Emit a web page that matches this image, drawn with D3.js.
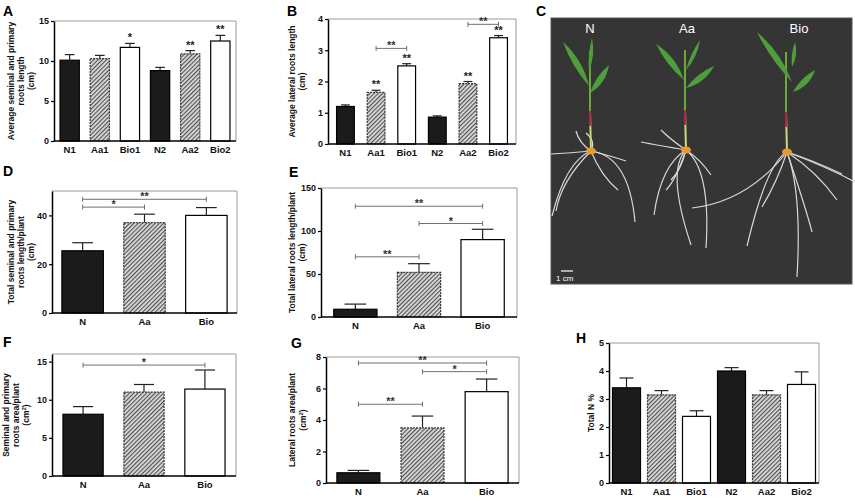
<!DOCTYPE html>
<html>
<head>
<meta charset="utf-8">
<script src="https://cdn.jsdelivr.net/npm/d3@7"></script>
<style>
  body { margin: 0; background: #fff; }
  svg text { font-family: Arial, "Liberation Sans", sans-serif; }
</style>
</head>
<body>
<div id="fig"></div>
<script>
// ---- data ----
var groups6 = ["N1", "Aa1", "Bio1", "N2", "Aa2", "Bio2"];
var groups3 = ["N", "Aa", "Bio"];
var treat6 = ["N", "Aa", "Bio", "N", "Aa", "Bio"];

// A: average seminal and primary roots length (cm)
var aMean = [10.1, 10.3, 11.7, 8.8, 10.9, 12.5];
var aErr = [0.7, 0.4, 0.5, 0.4, 0.4, 0.7];
var aStars = ["", "", "*", "", "**", "**"];
var aTicks = [0, 5, 10, 15];

// B: average lateral roots length (cm)
var bMean = [1.2, 1.65, 2.5, 0.86, 1.93, 3.4];
var bErr = [0.05, 0.07, 0.07, 0.04, 0.07, 0.07];
var bStars = ["", "**", "**", "", "**", "**"];
var bBrackets = [["Aa1", "Bio1", 3.06, "**"], ["Aa2", "Bio2", 3.83, "**"]];
var bTicks = [0, 1, 2, 3, 4];

// D: total seminal and primary roots length/plant (cm)
var dMean = [25.5, 37, 40];
var dErr = [3.3, 3.5, 3.2];
var dBrackets = [["N", "Aa", 43.4, "*"], ["N", "Bio", 46.6, "**"]];
var dTicks = [0, 20, 40];

// E: total lateral roots length/plant (cm)
var eMean = [9, 52, 90];
var eErr = [6, 10, 12];
var eBrackets = [["N", "Aa", 70, "**"], ["Aa", "Bio", 108.7, "*"], ["N", "Bio", 128.8, "**"]];
var eTicks = [0, 50, 100, 150];

// F: seminal and primary roots area/plant (cm2)
var fMean = [8.1, 11.0, 11.4];
var fErr = [1.0, 1.0, 2.5];
var fBrackets = [["N", "Bio", 14.55, "*"]];
var fTicks = [0, 5, 10, 15];

// G: lateral roots area/plant (cm2)
var gMean = [0.65, 3.5, 5.8];
var gErr = [0.15, 0.75, 0.8];
var gBrackets = [["N", "Aa", 5.0, "**"], ["Aa", "Bio", 7.07, "*"], ["N", "Bio", 7.62, "**"]];
var gTicks = [0, 2, 4, 6, 8];

// H: total N %
var hMean = [3.4, 3.15, 2.38, 4.0, 3.15, 3.52];
var hErr = [0.35, 0.15, 0.2, 0.12, 0.15, 0.45];
var hTicks = [0, 1, 2, 3, 4, 5];

var svg = d3.select("#fig").append("svg")
    .attr("width", 855)
    .attr("height", 501);

// diagonal hatch for the Aa bars
var pat = svg.append("defs").append("pattern")
    .attr("id", "hatch")
    .attr("patternUnits", "userSpaceOnUse")
    .attr("width", 3).attr("height", 3)
    .attr("patternTransform", "rotate(45)");
pat.append("rect").attr("width", 3).attr("height", 3).attr("fill", "#dcdcdc");
pat.append("line").attr("x1", 0.5).attr("y1", 0).attr("x2", 0.5).attr("y2", 3)
    .attr("stroke", "#505050").attr("stroke-width", 1.3);

function barFill(t) { return t === "N" ? "#1b1b1b" : t === "Aa" ? "url(#hatch)" : "#fff"; }
function barStroke(t) { return t === "Aa" ? "#3a3a3a" : "#000"; }

function drawPanel(p) {
    var g = svg.append("g");
    var x = d3.scaleBand().domain(p.cats).range([p.left, p.right])
        .paddingInner(p.pin).paddingOuter(p.pout);
    var y = d3.scaleLinear().domain([0, p.max]).range([p.bottom, p.top]);
    var bw = x.bandwidth();
    var rows = p.cats.map(function (c, i) {
        return { cat: c, t: p.treat[i], m: p.mean[i], e: p.err[i], s: p.stars ? p.stars[i] : "" };
    });

    // grey frame (top + right)
    g.append("path")
        .attr("d", "M" + p.left + "," + p.top + "H" + p.right + "V" + p.bottom)
        .attr("fill", "none").attr("stroke", "#9a9a9a").attr("stroke-width", 1);

    // error bars (upper only)
    var eb = g.selectAll("g.err").data(rows).join("g").attr("class", "err");
    eb.append("line")
        .attr("x1", function (d) { return x(d.cat) + bw / 2; })
        .attr("x2", function (d) { return x(d.cat) + bw / 2; })
        .attr("y1", function (d) { return y(d.m); })
        .attr("y2", function (d) { return y(d.m + d.e); })
        .attr("stroke", "#222").attr("stroke-width", 1.2);
    eb.append("line")
        .attr("x1", function (d) { return x(d.cat) + bw * 0.25; })
        .attr("x2", function (d) { return x(d.cat) + bw * 0.75; })
        .attr("y1", function (d) { return y(d.m + d.e); })
        .attr("y2", function (d) { return y(d.m + d.e); })
        .attr("stroke", "#222").attr("stroke-width", 1.2);

    // bars
    g.selectAll("rect.bar").data(rows).join("rect")
        .attr("class", "bar")
        .attr("x", function (d) { return x(d.cat); })
        .attr("width", bw)
        .attr("y", function (d) { return y(d.m); })
        .attr("height", function (d) { return y(0) - y(d.m); })
        .attr("fill", function (d) { return barFill(d.t); })
        .attr("stroke", function (d) { return barStroke(d.t); })
        .attr("stroke-width", 1.2)
        .attr("stroke-dasharray", function (d) { return d.t === "Aa" ? "2,1" : null; });

    // stars over bars
    g.selectAll("text.star").data(rows.filter(function (d) { return d.s; })).join("text")
        .attr("class", "star")
        .attr("x", function (d) { return x(d.cat) + bw / 2; })
        .attr("y", function (d) { return y(d.m + d.e) - 2; })
        .attr("text-anchor", "middle")
        .attr("font-size", 11).attr("font-weight", "bold").attr("fill", "#222")
        .text(function (d) { return d.s; });

    // significance brackets
    (p.brackets || []).forEach(function (b) {
        var x1 = x(b[0]) + bw / 2, x2 = x(b[1]) + bw / 2, yy = y(b[2]);
        var bg = g.append("g").attr("stroke", "#707070").attr("stroke-width", 1);
        bg.append("line").attr("x1", x1).attr("x2", x2).attr("y1", yy).attr("y2", yy);
        bg.append("line").attr("x1", x1).attr("x2", x1).attr("y1", yy - 2.5).attr("y2", yy + 2.5);
        bg.append("line").attr("x1", x2).attr("x2", x2).attr("y1", yy - 2.5).attr("y2", yy + 2.5);
        g.append("text")
            .attr("x", (x1 + x2) / 2).attr("y", yy + 1)
            .attr("text-anchor", "middle")
            .attr("font-size", 11).attr("font-weight", "bold").attr("fill", "#333")
            .text(b[3]);
    });

    // y axis
    var ya = g.append("g")
        .attr("transform", "translate(" + p.left + ",0)")
        .call(d3.axisLeft(y).tickValues(p.ticks).tickFormat(d3.format("d"))
            .tickSize(3).tickSizeOuter(0).tickPadding(2));
    ya.select(".domain").attr("stroke", "#000").attr("stroke-width", 1.5);
    ya.selectAll(".tick line").attr("stroke", "#000").attr("stroke-width", 1.2);
    ya.selectAll(".tick text")
        .attr("font-family", "Arial, 'Liberation Sans', sans-serif")
        .attr("font-size", 9).attr("font-weight", "bold").attr("fill", "#111");

    // x baseline
    g.append("line")
        .attr("x1", p.left).attr("x2", p.right)
        .attr("y1", p.bottom).attr("y2", p.bottom)
        .attr("stroke", "#000").attr("stroke-width", 1.5);

    // category labels
    g.selectAll("text.cat").data(p.cats).join("text")
        .attr("class", "cat")
        .attr("x", function (c) { return x(c) + bw / 2; })
        .attr("y", p.bottom + 12)
        .attr("text-anchor", "middle")
        .attr("font-size", 9.5).attr("font-weight", "bold").attr("fill", "#111")
        .text(function (c) { return c; });

    // y title
    var midY = (p.top + p.bottom) / 2;
    p.title.forEach(function (line, i) {
        var t = g.append("text")
            .attr("transform", "translate(" + p.titleX[i] + "," + midY + ") rotate(-90)")
            .attr("text-anchor", "middle")
            .attr("dominant-baseline", "middle")
            .attr("font-size", 8.5).attr("font-weight", "bold").attr("fill", "#111");
        if (line.indexOf("^2") >= 0) {
            var parts = line.split("^2");
            t.append("tspan").text(parts[0]);
            t.append("tspan").attr("font-size", 6).attr("dy", -3).text("2");
            t.append("tspan").attr("dy", 3).text(parts[1]);
        } else {
            t.text(line);
        }
    });

    // panel letter
    svg.append("text")
        .attr("x", p.lx).attr("y", p.ly)
        .attr("font-size", 14).attr("font-weight", "bold").attr("fill", "#000")
        .text(p.letter);
}

drawPanel({ letter: "A", lx: 3, ly: 16, cats: groups6, treat: treat6, mean: aMean, err: aErr, stars: aStars,
    ticks: aTicks, max: 15, left: 54, right: 236, top: 21, bottom: 141, pin: 0.36, pout: 0.2,
    title: ["Average seminal and primary", "roots length", "(cm)"], titleX: [12, 22, 32] });

drawPanel({ letter: "B", lx: 287, ly: 16, cats: groups6, treat: treat6, mean: bMean, err: bErr, stars: bStars,
    brackets: bBrackets, ticks: bTicks, max: 4, left: 328, right: 516, top: 19, bottom: 144, pin: 0.42, pout: 0.28,
    title: ["Average lateral roots length", "(cm)"], titleX: [293, 303] });

drawPanel({ letter: "D", lx: 3, ly: 176, cats: groups3, treat: groups3, mean: dMean, err: dErr,
    brackets: dBrackets, ticks: dTicks, max: 50, left: 52, right: 237, top: 191, bottom: 313, pin: 0.33, pout: 0.16,
    title: ["Total seminal and primary", "roots length/plant", "(cm)"], titleX: [12, 22, 32] });

drawPanel({ letter: "E", lx: 289, ly: 177, cats: groups3, treat: groups3, mean: eMean, err: eErr,
    brackets: eBrackets, ticks: eTicks, max: 150, left: 321, right: 517, top: 188, bottom: 317, pin: 0.32, pout: 0.2,
    title: ["Total lateral roots length/plant", "(cm)"], titleX: [293, 303] });

drawPanel({ letter: "F", lx: 3, ly: 347, cats: groups3, treat: groups3, mean: fMean, err: fErr,
    brackets: fBrackets, ticks: fTicks, max: 16, left: 52, right: 236, top: 354, bottom: 476, pin: 0.34, pout: 0.18,
    title: ["Seminal and primary", "roots area/plant", "(cm^2)"], titleX: [7, 17, 27] });

drawPanel({ letter: "G", lx: 291, ly: 348, cats: groups3, treat: groups3, mean: gMean, err: gErr,
    brackets: gBrackets, ticks: gTicks, max: 8, left: 326, right: 519, top: 357, bottom: 483, pin: 0.33, pout: 0.17,
    title: ["Lateral roots area/plant", "(cm^2)"], titleX: [293, 304] });

drawPanel({ letter: "H", lx: 576, ly: 343, cats: groups6, treat: treat6, mean: hMean, err: hErr,
    ticks: hTicks, max: 5, left: 609, right: 819, top: 343, bottom: 483, pin: 0.2, pout: 0.1,
    title: ["Total N %"], titleX: [592] });

// ---- panel C: photo of seedlings, drawn as a rough sketch ----
var c = svg.append("g");
svg.append("text").attr("x", 536).attr("y", 16)
    .attr("font-size", 14).attr("font-weight", "bold").text("C");
c.append("rect").attr("x", 551).attr("y", 18).attr("width", 301).attr("height", 266)
    .attr("fill", "#353535").attr("stroke", "#555");

var plants = [
    { name: "N", tx: 590, sx: 591, sy: 151,
      leaves: [[-2, -65, -28, -109, 8], [-2, -80, 1, -113, 5], [-1, -58, 18, -86, 8]],
      roots: [[-25, 10, -39, 65], [38, 5, 44, 71], [10, 25, 27, 39], [-20, 2, -40, 3], [-12, -8, -15, -20],
              [5, -10, -5, -18], [20, 5, 35, 10], [-30, 30, -35, 60]] },
    { name: "Aa", tx: 687, sx: 686, sy: 150,
      leaves: [[-2, -70, -30, -106, 8], [0, -80, 14, -110, 5], [0, -62, 28, -84, 8]],
      roots: [[-25, 15, -32, 65], [-20, 20, 5, 95], [25, 20, 20, 98], [-30, -5, -45, -8], [-15, -10, -25, -20],
              [15, 10, 25, 25], [-10, 30, -20, 40], [-5, 20, -15, 30]] },
    { name: "Bio", tx: 799, sx: 787, sy: 152,
      leaves: [[5, -70, -30, -120, 8], [5, -85, 8, -110, 5], [6, -60, 28, -82, 8]],
      roots: [[-20, 10, -40, 94], [-40, 50, -95, 56], [15, 40, 10, 125], [30, 20, 50, 48], [40, 15, 68, 30],
              [20, 60, 25, 80], [25, 8, 55, 22], [-10, 30, -25, 55]] }
];

plants.forEach(function (pl) {
    var pg = c.append("g");
    pl.roots.forEach(function (r) {
        pg.append("path")
            .attr("d", "M" + pl.sx + "," + pl.sy + "Q" + (pl.sx + r[0]) + "," + (pl.sy + r[1]) + " " + (pl.sx + r[2]) + "," + (pl.sy + r[3]))
            .attr("fill", "none").attr("stroke", "#d8d8d8").attr("stroke-width", 1.2);
    });
    // stem
    pg.append("line").attr("x1", pl.sx).attr("y1", pl.sy).attr("x2", pl.sx - 1).attr("y2", pl.sy - 40)
        .attr("stroke", "#c8d878").attr("stroke-width", 2);
    pg.append("line").attr("x1", pl.sx - 1).attr("y1", pl.sy - 40).attr("x2", pl.sx - 1).attr("y2", pl.sy - 25)
        .attr("stroke", "#b02848").attr("stroke-width", 2);
    pg.append("line").attr("x1", pl.sx - 1).attr("y1", pl.sy - 40).attr("x2", pl.sx - 1).attr("y2", pl.sy - 100)
        .attr("stroke", "#6aaa3a").attr("stroke-width", 2);
    pl.leaves.forEach(function (lf) {
        var bx = pl.sx + lf[0], by = pl.sy + lf[1], tx = pl.sx + lf[2], ty = pl.sy + lf[3];
        var mx = (bx + tx) / 2, my = (by + ty) / 2;
        var len = Math.hypot(tx - bx, ty - by), nx = -(ty - by) / len, ny = (tx - bx) / len;
        pg.append("path")
            .attr("d", "M" + bx + "," + by + "Q" + (mx + nx * lf[4]) + "," + (my + ny * lf[4]) + " " + tx + "," + ty +
                "Q" + (mx - nx * lf[4] * 0.6) + "," + (my - ny * lf[4] * 0.6) + " " + bx + "," + by)
            .attr("fill", "#4f9e3c");
    });
    pg.append("ellipse").attr("cx", pl.sx).attr("cy", pl.sy).attr("rx", 5).attr("ry", 3.5).attr("fill", "#e89a30");
    c.append("text").attr("x", pl.tx).attr("y", 33).attr("text-anchor", "middle")
        .attr("font-size", 13).attr("fill", "#fff").text(pl.name);
});

c.append("line").attr("x1", 561).attr("x2", 573).attr("y1", 271).attr("y2", 271)
    .attr("stroke", "#fff").attr("stroke-width", 1.2);
c.append("text").attr("x", 556).attr("y", 281).attr("font-size", 8).attr("fill", "#fff").text("1 cm");
</script>
</body>
</html>
